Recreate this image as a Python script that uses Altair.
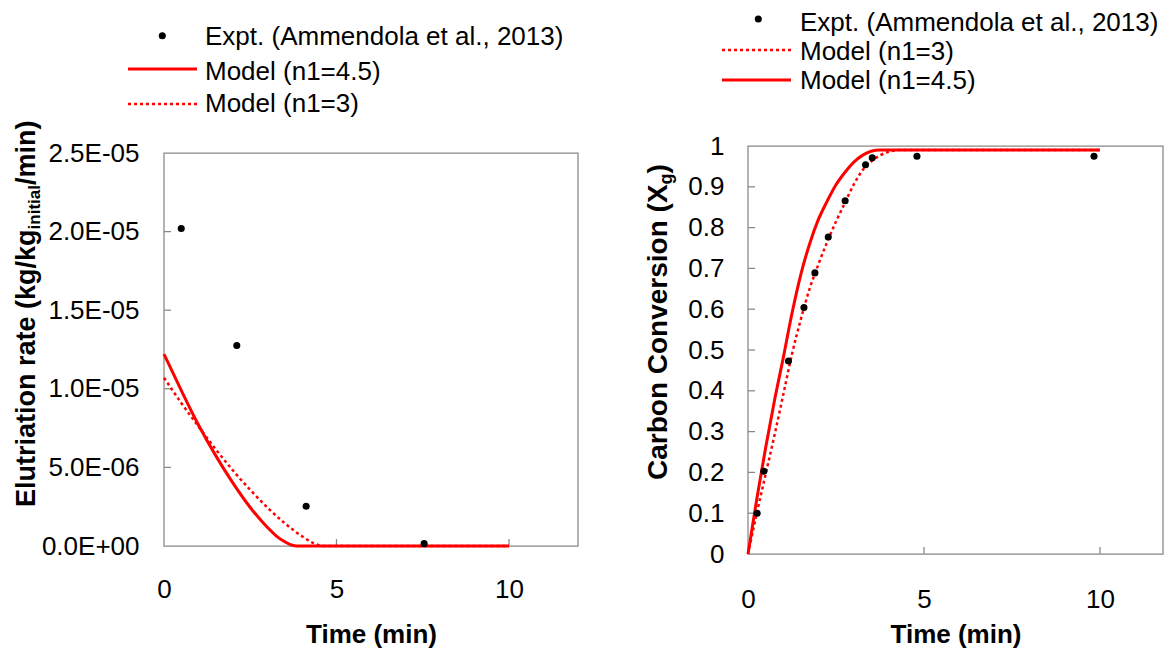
import json
import altair as alt
import pandas as pd

FONT = "Liberation Sans, Arial, sans-serif"
RED = "#FF0000"
FRAME = "#878787"

# ---------------- left panel : elutriation rate ----------------
left_expt_time = [0.50, 2.11, 4.12, 7.54]
left_expt_rate = [2.02e-5, 1.275e-5, 2.53e-6, 1.5e-7]

left_m45_time = [0, 0.5, 1.0, 1.5, 2.0, 2.5, 3.0, 3.25, 3.5, 3.7, 3.85, 10]
left_m45_rate = [1.22e-5, 0.99e-5, 0.77e-5, 0.575e-5, 0.40e-5, 0.245e-5,
                 0.118e-5, 0.065e-5, 0.027e-5, 0.006e-5, 0.0, 0.0]

left_m3_time = [0, 0.5, 1.0, 1.5, 2.0, 2.5, 3.0, 3.5, 4.0, 4.3, 4.6, 10]
left_m3_rate = [1.07e-5, 0.91e-5, 0.76e-5, 0.615e-5, 0.48e-5, 0.357e-5,
                0.244e-5, 0.145e-5, 0.062e-5, 0.022e-5, 0.0, 0.0]

left_ytick_values = [0, 5e-6, 1e-5, 1.5e-5, 2e-5, 2.5e-5]
left_ytick_labels = ["0.0E+00", "5.0E-06", "1.0E-05", "1.5E-05", "2.0E-05", "2.5E-05"]
left_x_domain = [0, 12]

# ---------------- right panel : carbon conversion ----------------
right_expt_time = [0.26, 0.45, 1.15, 1.59, 1.90, 2.28, 2.76, 3.34, 3.53, 4.80, 9.83]
right_expt_conv = [0.10, 0.203, 0.473, 0.604, 0.689, 0.777, 0.866, 0.954, 0.971, 0.975, 0.975]

right_m45_time = [0, 0.25, 0.5, 0.75, 1.0, 1.25, 1.5, 1.75, 2.0, 2.25, 2.5, 2.75,
                  3.0, 3.25, 3.5, 3.75, 4.0, 10]
right_m45_conv = [0, 0.135, 0.26, 0.375, 0.48, 0.59, 0.685, 0.76, 0.82, 0.865, 0.905,
                  0.935, 0.96, 0.977, 0.987, 0.99, 0.99, 0.99]

right_m3_time = [0, 0.25, 0.5, 0.75, 1.0, 1.25, 1.5, 1.75, 2.0, 2.25, 2.5, 2.75,
                 3.0, 3.25, 3.5, 3.75, 4.0, 4.3, 10]
right_m3_conv = [0, 0.10, 0.195, 0.29, 0.39, 0.49, 0.575, 0.65, 0.71, 0.765, 0.815,
                 0.86, 0.905, 0.94, 0.962, 0.977, 0.986, 0.99, 0.99]

right_ytick_values = [0, 0.1, 0.2, 0.3, 0.4, 0.5, 0.6, 0.7, 0.8, 0.9, 1.0]
right_ytick_labels = ["0", "0.1", "0.2", "0.3", "0.4", "0.5", "0.6", "0.7", "0.8", "0.9", "1"]
right_x_domain = [0, 11.79]

xtick_values = [0, 5, 10]

legend_expt = "Expt. (Ammendola et al., 2013)"
legend_m45 = "Model (n1=4.5)"
legend_m3 = "Model (n1=3)"
x_title = "Time (min)"
left_title_parts = ["Elutriation rate (kg/kg", "initial", "/min)"]
right_title_parts = ["Carbon Conversion (X", "g", ")"]

ONE = pd.DataFrame({"k": [0]})


def text_at(txt, x, y, size, bold=False, angle=0, dy=0):
    kw = dict(align="left", baseline="alphabetic", font=FONT, fontSize=size,
              color="black", fontWeight="bold" if bold else "normal")
    if angle:
        kw["angle"] = angle
    if dy:
        kw["dy"] = dy
    return alt.Chart(ONE).mark_text(**kw).encode(
        x=alt.value(x), y=alt.value(y), text=alt.value(txt))


def dot_at(x, y):
    return alt.Chart(ONE).mark_circle(size=50, color="black", opacity=1).encode(
        x=alt.value(x), y=alt.value(y))


def line_at(x1, x2, y, dotted):
    kw = dict(color=RED, strokeWidth=2.5 if dotted else 3)
    if dotted:
        kw["strokeDash"] = [3, 3]
    return alt.Chart(ONE).mark_rule(**kw).encode(
        x=alt.value(x1), x2=alt.value(x2), y=alt.value(y))


def anchor_at(x, y):
    return alt.Chart(ONE).mark_circle(size=1, opacity=0).encode(
        x=alt.value(x), y=alt.value(y))


def frame(w, top, h):
    return alt.Chart(ONE).mark_rect(fillOpacity=0, stroke=FRAME, strokeWidth=1.25).encode(
        x=alt.value(0), x2=alt.value(w), y=alt.value(top), y2=alt.value(h))


def panel(w, h, top, xdom, expt_t, expt_v, m45_t, m45_v, m3_t, m3_v, ymax, yvals,
          ylabels, label_step, xlabel_pad, xtitle_y, ylabel_pad, extra):
    expr = json.dumps(ylabels) + "[round(datum.value / " + repr(label_step) + ")]"
    # the frame top sits `top` px below the group top: stretch the domain so that
    # ymax lands exactly on the frame
    ydom = [0, ymax * h / (h - top)]
    X = alt.X("t:Q", scale=alt.Scale(domain=xdom, nice=False, zero=False),
              axis=alt.Axis(values=xtick_values, labelPadding=xlabel_pad, tickSize=0,
                            labelFlush=False, title=x_title, titleY=xtitle_y,
                            titleBaseline="alphabetic"))
    Y = alt.Y("v:Q", scale=alt.Scale(domain=ydom, nice=False, zero=False),
              axis=alt.Axis(values=yvals, labelExpr=expr, labelPadding=ylabel_pad,
                            tickSize=0, labelFlush=False, title=None))
    expt = pd.DataFrame({"t": expt_t, "v": expt_v})
    m45 = pd.DataFrame({"t": m45_t, "v": m45_v})
    m3 = pd.DataFrame({"t": m3_t, "v": m3_v})
    inner_y = pd.DataFrame({"v": yvals[1:-1]})
    inner_x = pd.DataFrame({"t": xtick_values[1:]})

    layers = [
        frame(w, top, h),
        alt.Chart(inner_y).mark_rule(color=FRAME, strokeWidth=1.25).encode(
            y=Y, x=alt.value(0), x2=alt.value(7)),
        alt.Chart(inner_x).mark_rule(color=FRAME, strokeWidth=1.25).encode(
            x=X, y=alt.value(h), y2=alt.value(h - 7)),
        alt.Chart(m3).mark_line(color=RED, strokeWidth=2.5, strokeDash=[3, 3],
                                interpolate="monotone").encode(x=X, y=Y),
        alt.Chart(m45).mark_line(color=RED, strokeWidth=3,
                                 interpolate="monotone").encode(x=X, y=Y),
        alt.Chart(expt).mark_circle(size=50, color="black", opacity=1).encode(x=X, y=Y),
    ] + extra
    return alt.layer(*layers).properties(width=w, height=h)


# group tops of both panels are aligned at canvas y = 146
# ---- left panel decorations (pixel offsets relative to group origin) ----
LW, LH, LTOP = 414, 400, 7
left_extra = [
    dot_at(-1.7, -110.3),
    text_at(legend_expt, 41, -101, 26),
    line_at(-36, 33, -77, False),
    text_at(legend_m45, 41, -66, 26),
    line_at(-36, 33, -42, True),
    text_at(legend_m3, 41, -34, 26),
    text_at(left_title_parts[0], -129, 361, 27, bold=True, angle=270),
    text_at(left_title_parts[1], -129, 83.4, 17, bold=True, angle=270, dy=5),
    text_at(left_title_parts[2], -129, 39.0, 27, bold=True, angle=270),
    anchor_at(-155.44, -137.44),
    anchor_at(416, -137.44),
]

# ---- right panel decorations ----
RW, RH, RTOP = 415, 408, 0
right_extra = [
    dot_at(10.3, -127),
    text_at(legend_expt, 52, -115, 26),
    line_at(-26, 43, -96, True),
    text_at(legend_m3, 52, -86, 26),
    line_at(-26, 43, -66, False),
    text_at(legend_m45, 52, -57, 26),
    text_at(right_title_parts[0], -81, 334, 28, bold=True, angle=270),
    text_at(right_title_parts[1], -81, 38.4, 18, bold=True, angle=270, dy=5),
    text_at(right_title_parts[2], -81, 27.4, 28, bold=True, angle=270),
    anchor_at(-147.88, -137.44),
]

left = panel(LW, LH, LTOP, left_x_domain, left_expt_time, left_expt_rate, left_m45_time,
             left_m45_rate, left_m3_time, left_m3_rate, 2.5e-5, left_ytick_values,
             left_ytick_labels, 5e-6, 30, 96.5, 25, left_extra)
right = panel(RW, RH, RTOP, right_x_domain, right_expt_time, right_expt_conv,
              right_m45_time, right_m45_conv, right_m3_time, right_m3_conv, 1.0,
              right_ytick_values, right_ytick_labels, 0.1, 32, 88.5, 24, right_extra)

chart = alt.hconcat(left, right, spacing=18).properties(
    padding=0, background="white"
).configure_view(
    strokeWidth=0
).configure_axis(
    grid=False, domain=False, ticks=False,
    labelFont=FONT, labelFontSize=26, labelColor="black",
    titleFont=FONT, titleFontSize=26, titleFontWeight="bold", titleColor="black",
)

chart.save("out.html", embed_options={"renderer": "svg", "actions": False})
